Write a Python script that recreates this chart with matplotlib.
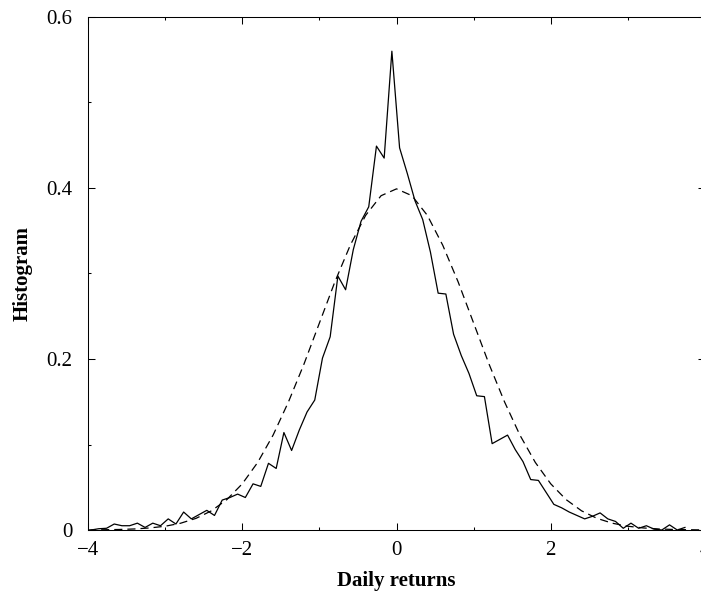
import matplotlib
matplotlib.use('Agg')
import matplotlib.pyplot as plt
from matplotlib.ticker import MultipleLocator, FuncFormatter

plt.rcParams['font.family'] = ['Liberation Serif', 'DejaVu Serif']

# histogram of daily returns, bin centres every 0.1
hist_x = [round(-3.96 + 0.1 * k, 2) for k in range(78)]
hist_y = [0.0, 0.0015, 0.002, 0.007, 0.005, 0.005, 0.008, 0.003, 0.008, 0.005,
          0.013, 0.007, 0.021, 0.013, 0.018, 0.023, 0.017, 0.035, 0.038, 0.042,
          0.038, 0.054, 0.051, 0.078, 0.072, 0.114, 0.093, 0.117, 0.138, 0.152,
          0.201, 0.226, 0.297, 0.281, 0.328, 0.361, 0.378, 0.449, 0.435, 0.560,
          0.447, 0.417, 0.385, 0.363, 0.325, 0.277, 0.276, 0.229, 0.204, 0.183,
          0.157, 0.156, 0.101, 0.106, 0.111, 0.094, 0.080, 0.059, 0.058, 0.044,
          0.030, 0.026, 0.021, 0.017, 0.013, 0.016, 0.020, 0.013, 0.010, 0.002,
          0.008, 0.002, 0.005, 0.001, 0.0, 0.006, 0.0, 0.003]

# gaussian reference curve (dashed), read every 0.2
gauss_x = [round(-4.0 + 0.2 * k, 1) for k in range(41)]
gauss_half = [0.0001, 0.0003, 0.0006, 0.0012, 0.0024, 0.0044, 0.0079, 0.0136,
              0.0224, 0.0355, 0.054, 0.079, 0.111, 0.150, 0.194, 0.242, 0.290,
              0.333, 0.368, 0.391]
gauss_y = gauss_half + [0.399] + gauss_half[::-1]

fig = plt.figure(figsize=(7.01, 5.93), dpi=100)
# axes runs a little past the right edge, as in the original
ax = fig.add_axes([88 / 701, 63 / 593, 617 / 701, 513 / 593])

ax.plot(hist_x, hist_y, color='black', lw=0.9)
ax.plot(gauss_x, gauss_y, color='black', lw=0.9, dashes=(6.5, 4))

ax.set_xlim(-4, 4)
ax.set_ylim(0, 0.6)
ax.xaxis.set_major_locator(MultipleLocator(2))
ax.xaxis.set_minor_locator(MultipleLocator(1))
ax.yaxis.set_major_locator(MultipleLocator(0.2))
ax.yaxis.set_minor_locator(MultipleLocator(0.1))
ax.xaxis.set_major_formatter(FuncFormatter(lambda v, p: ('%g' % v).replace('-', '\u2212')))
ax.yaxis.set_major_formatter(FuncFormatter(lambda v, p: '0' if v == 0 else '%.1f' % v))

ax.tick_params(which='both', direction='in', top=True, right=True, width=0.75, labelsize=15)
ax.tick_params(which='major', length=5)
ax.tick_params(which='minor', length=2.4)
ax.tick_params(axis='y', pad=11)
ax.tick_params(axis='x', pad=8)
for s in ax.spines.values():
    s.set_linewidth(0.75)

ax.set_xlabel('Daily returns', fontsize=15, fontweight='bold', labelpad=8)
ax.set_ylabel('Histogram', fontsize=15, fontweight='bold', labelpad=10)

fig.savefig('out.png', dpi=100)
